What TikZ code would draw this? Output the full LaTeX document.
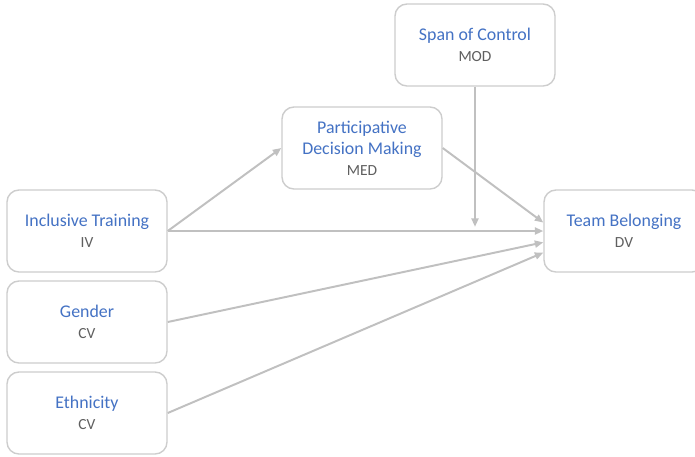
\documentclass[tikz,border=0pt]{standalone}
\usepackage{fontspec}
\setmainfont{Carlito}
\usetikzlibrary{arrows.meta}
\definecolor{boxline}{RGB}{205,205,205}
\definecolor{linkgray}{RGB}{192,192,192}
\definecolor{nameblue}{RGB}{68,114,196}
\definecolor{rolegray}{RGB}{95,95,95}
\newcommand{\varname}[1]{\textcolor{nameblue}{#1}}
\newcommand{\varrole}[1]{{\fontsize{11}{13}\selectfont\color{rolegray}#1}}

\begin{document}
\begin{tikzpicture}[x = 0.025cm, y = -0.025cm,
  var/.style = {draw = boxline, line width = 1pt, rounded corners = 0.3cm, fill = white,
    minimum width = 4cm, minimum height = 2.05cm, align = center,
    font = \fontsize{12.7}{15}\selectfont},
  link/.style = {draw = linkgray, line width = 1.4pt, -{Triangle[length = 6pt, width = 5pt]}}]
\useasboundingbox (0, 0) rectangle (695, 456);
\node[var] (it) at (87, 231) {\varname{Inclusive Training}\\\varrole{IV}};
\node[var] (gen) at (87, 322) {\varname{Gender}\\\varrole{CV}};
\node[var] (eth) at (87, 413) {\varname{Ethnicity}\\\varrole{CV}};
\node[var] (pdm) at (362, 148) {\varname{Participative}\\\varname{Decision Making}\\\varrole{MED}};
\node[var] (soc) at (475, 45) {\varname{Span of Control}\\\varrole{MOD}};
\node[var] (tb) at (624, 231) {\varname{Team Belonging}\\\varrole{DV}};
\draw[link] (it.east) -- (pdm.west);
\draw[link] (it.east) -- (tb.west);
\draw[link] (pdm.east) -- (tb.174);
\draw[link, shorten > = 3pt] (soc.south) -- (soc.south |- it.east);
\draw[link] (gen.east) -- (tb.188);
\draw[link] (eth.east) -- (tb.195);
\end{tikzpicture}
\end{document}
